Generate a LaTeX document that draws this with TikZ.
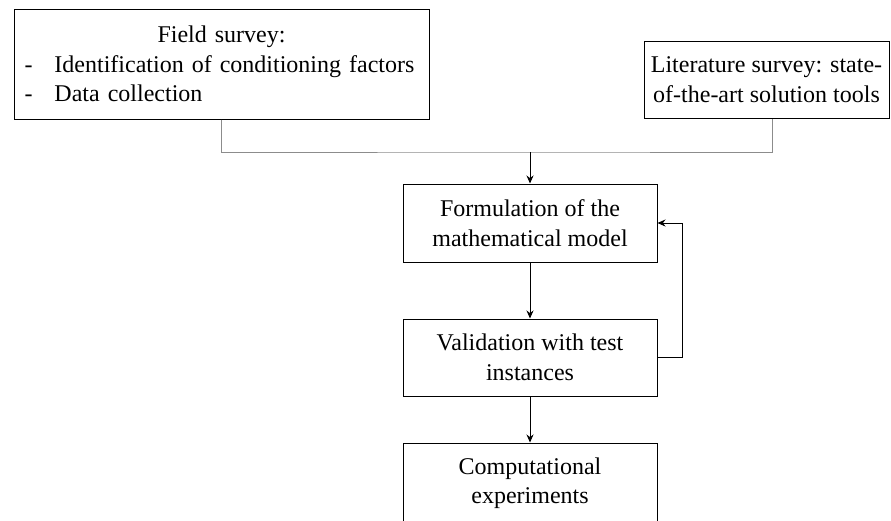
\documentclass[tikz,border=0pt]{standalone}
\usepackage{fontspec}
\setmainfont{Liberation Serif}
\usetikzlibrary{arrows.meta}
\begin{document}
\begin{tikzpicture}[x=1pt,y=1pt,
  box/.style={draw=black, line width=1pt, rectangle, align=center, inner sep=0pt,
    font=\fontsize{24}{29.5}\selectfont},
  feed/.style={draw=black!45, line width=1pt},
  flow/.style={draw=black, line width=1pt, -{Stealth[length=8pt,width=7pt]}}
]
\useasboundingbox (0,0) rectangle (891,-520);

% survey boxes
\node[box, minimum width=415pt, minimum height=110pt, text width=394pt, align=left]
  (field) at (221.5,-64) {%
  {\centering Field survey:\par}%
  \noindent\makebox[30pt][l]{-}Identification of conditioning factors\par
  \noindent\makebox[30pt][l]{-}Data collection};
\node[box, minimum width=245pt, minimum height=77pt] (lit) at (766.5,-79.5)
  {Literature survey: state-\\of-the-art solution tools};

% main sequence
\node[box, minimum width=254pt, minimum height=78pt] (model) at (530,-223)
  {Formulation of the\\mathematical model};
\node[box, minimum width=254pt, minimum height=77pt] (valid) at (530,-357.5)
  {Validation with test\\instances};
\node[box, minimum width=254pt, minimum height=80pt] (exper) at (530,-483)
  {Computational\\experiments};

% merge of the two surveys
\coordinate (join) at (530,-152);
\draw[feed] (field.south -| 221,0) |- (join) -| (lit.south -| 772,0);
\draw[flow] (join) -- (model.north);

\draw[flow] (model) -- (valid);
\draw[flow] (valid) -- (exper);

% feedback loop from validation back to the model
\draw[flow] (valid.east) -- ++(25,0) |- (model.east);
\end{tikzpicture}
\end{document}
